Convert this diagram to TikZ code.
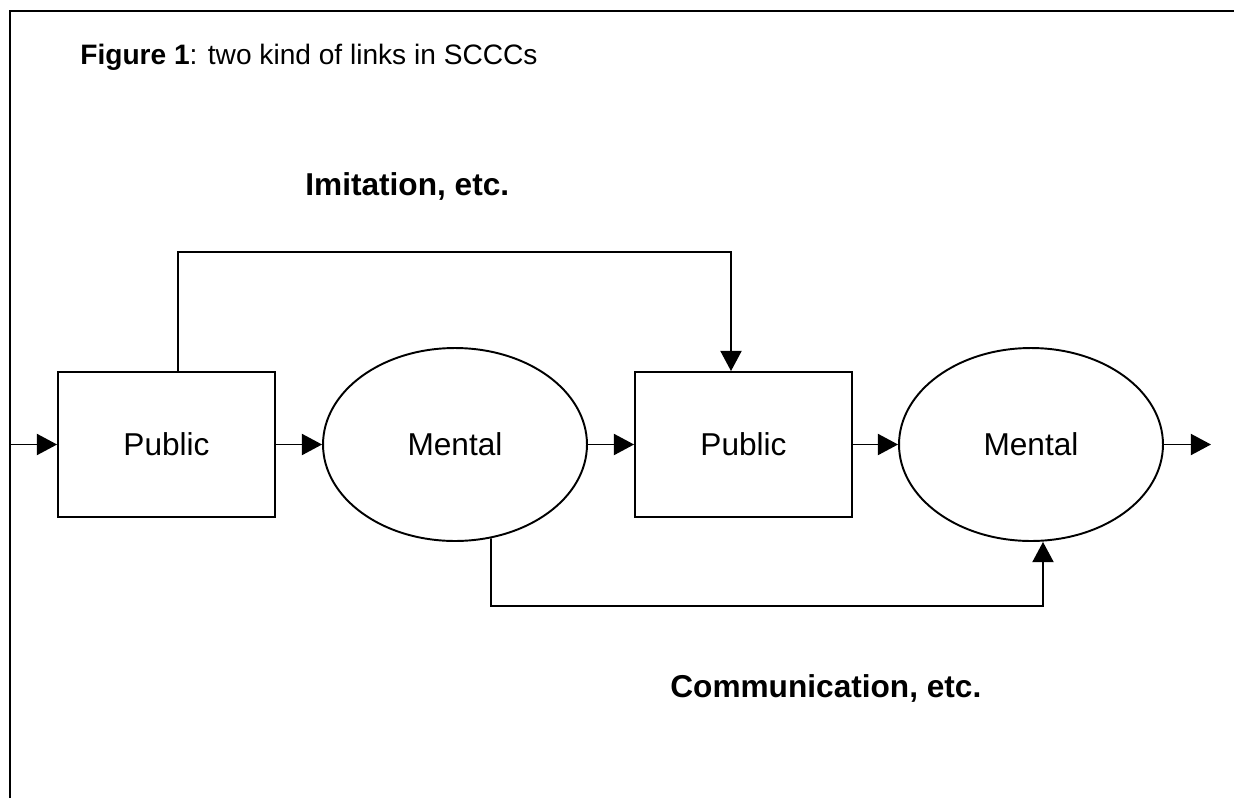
\documentclass[tikz,border=0pt]{standalone}
\usepackage{fontspec}
\setmainfont{Liberation Sans}
\usepackage{tikz}
\usetikzlibrary{shapes.geometric, arrows.meta, positioning}

\begin{document}
\begin{tikzpicture}[
    x=0.02cm, y=-0.02cm,
    pubbox/.style={rectangle, draw=black, line width=1.1pt, minimum width=4.34cm, minimum height=2.9cm, inner sep=0pt, font=\fontsize{18}{22}\selectfont},
    mentell/.style={ellipse, draw=black, line width=1.1pt, minimum width=5.28cm, minimum height=3.86cm, inner sep=0pt, font=\fontsize{18}{22}\selectfont},
    linklabel/.style={anchor=base west, inner sep=0pt, font=\fontsize{18}{22}\selectfont\bfseries},
    arr/.style={-{Triangle[length=11.5pt, width=12pt]}, line width=1.1pt},
]
\useasboundingbox (0,0) rectangle (1234,798);

% frame
\draw[line width=1.1pt] (10,798) -- (10,11) -- (1234,11);

% title
\node[anchor=base west, inner sep=0pt, font=\fontsize{16}{20}\selectfont] (title) at (80,64) {\textbf{Figure 1}: two kind of links in SCCCs};

% chain
\node[pubbox]  (p1) at (166.5,444.5) {Public};
\node[mentell] (m1) at (455,444.5)   {Mental};
\node[pubbox]  (p2) at (743.5,444.5) {Public};
\node[mentell] (m2) at (1031,444.5)  {Mental};

\coordinate (in)  at (10,444.5);
\coordinate (out) at (1211,444.5);

\draw[arr] (in) -- (p1);
\draw[arr] (p1) -- (m1);
\draw[arr] (m1) -- (p2);
\draw[arr] (p2) -- (m2);
\draw[arr] (m2) -- (out);

% public -> public
\coordinate (imstart) at (178,252);
\coordinate (imend)   at (731,252);
\draw[arr] (p1.north -| imstart) -- (imstart) -- (imend) -- (p2.north -| imend);
\node[linklabel] (imlab) at (305,195) {Imitation, etc.};

% mental -> mental
\coordinate (costart) at (491,606);
\coordinate (coend)   at (1043,606);
\draw[arr] (m1.-69) -- (costart) -- (coend) -- (m2.south -| coend);
\node[linklabel] (colab) at (670,697) {Communication, etc.};

\end{tikzpicture}
\end{document}
